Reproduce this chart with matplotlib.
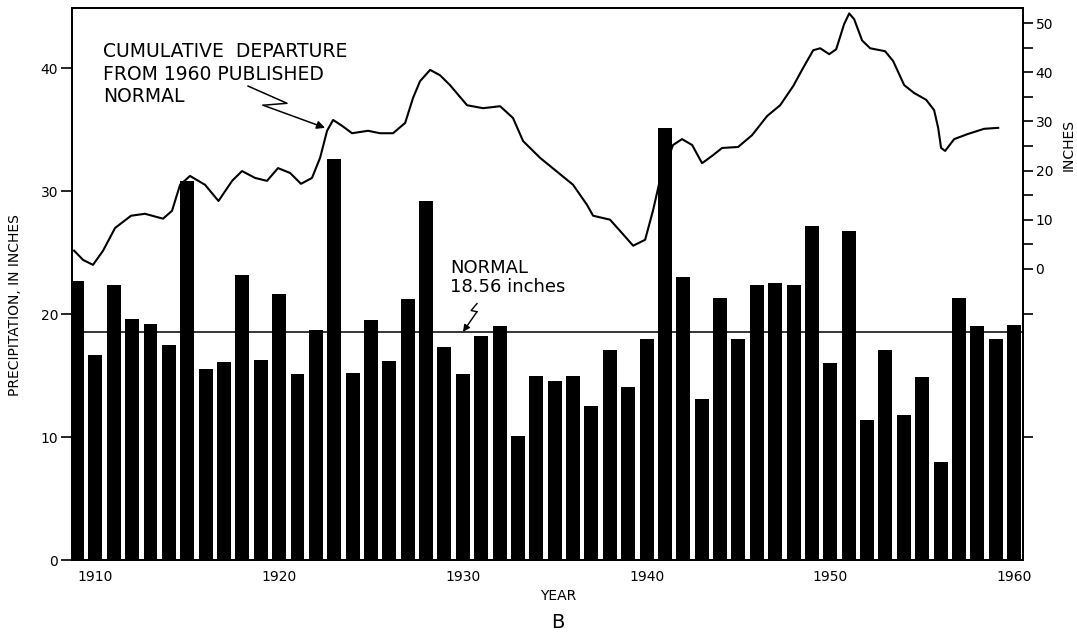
import numpy as np
import matplotlib.pyplot as plt

# annual precipitation, inches
years = np.arange(1909, 1961)
precip = [22.7, 16.7, 22.4, 19.6, 19.2, 17.5, 30.8, 15.5, 16.1, 23.2,
          16.3, 21.6, 15.1, 18.7, 32.6, 15.2, 19.5, 16.2, 21.2, 29.2,
          17.3, 15.1, 18.2, 19.0, 10.1, 15.0, 14.6, 15.0, 12.5, 17.1,
          14.1, 18.0, 35.1, 23.0, 13.1, 21.3, 18.0, 22.4, 22.5, 22.4,
          27.2, 16.0, 26.8, 11.4, 17.1, 11.8, 14.9, 8.0, 21.3, 19.0,
          18.0, 19.1]
normal = 18.56

# cumulative departure from the 1960 published normal, inches
cum_years = [1908.84, 1909.33, 1909.87, 1910.42, 1911.07, 1911.94, 1912.70, 1913.68,
             1914.17, 1914.61, 1915.15, 1915.97, 1916.70, 1917.44, 1917.98, 1918.69,
             1919.34, 1919.94, 1920.60, 1921.19, 1921.79, 1922.23, 1922.61, 1922.94,
             1923.43, 1923.97, 1924.84, 1925.49, 1926.20, 1926.86, 1927.29, 1927.67,
             1928.22, 1928.76, 1929.30, 1930.23, 1931.10, 1932.03, 1932.73, 1933.28,
             1934.20, 1936.00, 1936.76, 1937.09, 1938.01, 1938.56, 1939.27, 1939.92,
             1940.36, 1940.74, 1941.44, 1941.93, 1942.48, 1943.02, 1943.57, 1944.11,
             1944.98, 1945.74, 1946.56, 1947.27, 1947.98, 1948.52, 1949.07, 1949.45,
             1949.94, 1950.32, 1950.75, 1951.03, 1951.30, 1951.73, 1952.17, 1952.98,
             1953.42, 1954.02, 1954.56, 1955.22, 1955.65, 1955.87, 1956.03, 1956.25,
             1956.74, 1957.45, 1958.37, 1959.14]
cum_depart = [3.7, 1.8, 0.8, 3.7, 8.3, 10.8, 11.2, 10.2,
              11.8, 17.1, 18.9, 17.1, 13.8, 17.9, 19.9, 18.5,
              17.9, 20.5, 19.5, 17.3, 18.5, 22.6, 28.1, 30.3,
              29.1, 27.6, 28.1, 27.6, 27.6, 29.7, 34.8, 38.2,
              40.5, 39.4, 37.4, 33.3, 32.7, 33.1, 30.7, 26.0,
              22.6, 17.1, 13.0, 10.8, 10.0, 7.7, 4.7, 5.9,
              12.0, 18.3, 25.2, 26.4, 25.2, 21.5, 23.0, 24.6,
              24.8, 27.2, 31.1, 33.3, 37.2, 40.9, 44.5, 44.9,
              43.7, 44.7, 49.8, 52.0, 50.8, 46.5, 44.9, 44.3,
              42.3, 37.4, 35.8, 34.4, 32.3, 28.7, 24.6, 24.0,
              26.4, 27.4, 28.5, 28.7]

left_ticks = [0, 10, 20, 30, 40]
right_ticks = [0, 10, 20, 30, 40, 50]
year_ticks = [1910, 1920, 1930, 1940, 1950, 1960]

plt.rcParams['font.family'] = 'DejaVu Sans'

fig = plt.figure(figsize=(10.77, 6.35), dpi=100)
ax = fig.add_axes([0.0669, 0.1181, 0.8830, 0.8693])

# cumulative departure on its own scale at the right, drawn under the bars
ax2 = ax.twinx()
ax.set_zorder(ax2.get_zorder() + 1)
ax.patch.set_visible(False)

ax.bar(years, precip, width=0.76, color='black', zorder=2)
ax.axhline(normal, color='black', lw=1.1, zorder=1)

ax.set_xlim(1908.73, 1960.49)
ax.set_ylim(0, 44.9)
ax.set_yticks(left_ticks)
ax.set_xticks(year_ticks)
ax.tick_params(axis='x', length=0, pad=7, labelsize=10)
ax.tick_params(axis='y', length=8, width=1.2, labelsize=10, pad=2)
for s in ax.spines.values():
    s.set_linewidth(1.3)

ax2.set_ylim(-59.3, 53.1)
ax2.plot(cum_years, cum_depart, color='black', lw=1.5, solid_joinstyle='round')


def left_to_right(v):
    lo, hi = ax.get_ylim()
    rlo, rhi = ax2.get_ylim()
    return rlo + (v - lo) * (rhi - rlo) / (hi - lo)


ax2.set_yticks(right_ticks)
ax2.set_yticks([5, 15, 25, 35, 45, left_to_right(10), left_to_right(20)], minor=True)
ax2.tick_params(axis='y', which='both', length=7, width=1.2, labelsize=10, pad=2)
for s in ax2.spines.values():
    s.set_linewidth(1.3)

# arrow pointing at the departure curve
ax2.plot([1918.31, 1920.43, 1919.13], [37.2, 33.7, 33.3], color='black', lw=1.1)
ax2.annotate('', xy=(1922.50, 28.7), xytext=(1919.13, 33.3),
             arrowprops=dict(arrowstyle='-|>', color='black', lw=1.1,
                             mutation_scale=12, shrinkA=0, shrinkB=0))

# arrow pointing at the normal line
ax.plot([1930.77, 1930.45, 1930.77], [20.86, 20.29, 20.20], color='black', lw=1.0)
ax.annotate('', xy=(1930.01, normal), xytext=(1930.77, 20.20),
            arrowprops=dict(arrowstyle='-|>', color='black', lw=1.0,
                            mutation_scale=10, shrinkA=0, shrinkB=0))

fig.text(103 / 1077, 1 - 42 / 635, 'CUMULATIVE  DEPARTURE\nFROM 1960 PUBLISHED\nNORMAL',
         fontsize=13.5, va='top', ha='left', linespacing=1.25)
fig.text(450 / 1077, 1 - 259 / 635, 'NORMAL\n18.56 inches',
         fontsize=13, va='top', ha='left', linespacing=1.1)

fig.text(15 / 1077, 1 - 305 / 635, 'PRECIPITATION, IN INCHES', rotation=90,
         fontsize=10, ha='center', va='center')
fig.text(1069 / 1077, 1 - 145 / 635, 'INCHES', rotation=90,
         fontsize=10, ha='center', va='center')
fig.text(558 / 1077, 1 - 596 / 635, 'YEAR', fontsize=10, ha='center', va='center')
fig.text(558 / 1077, 1 - 622 / 635, 'B', fontsize=14, ha='center', va='center')

fig.savefig('out.png', dpi=100)
